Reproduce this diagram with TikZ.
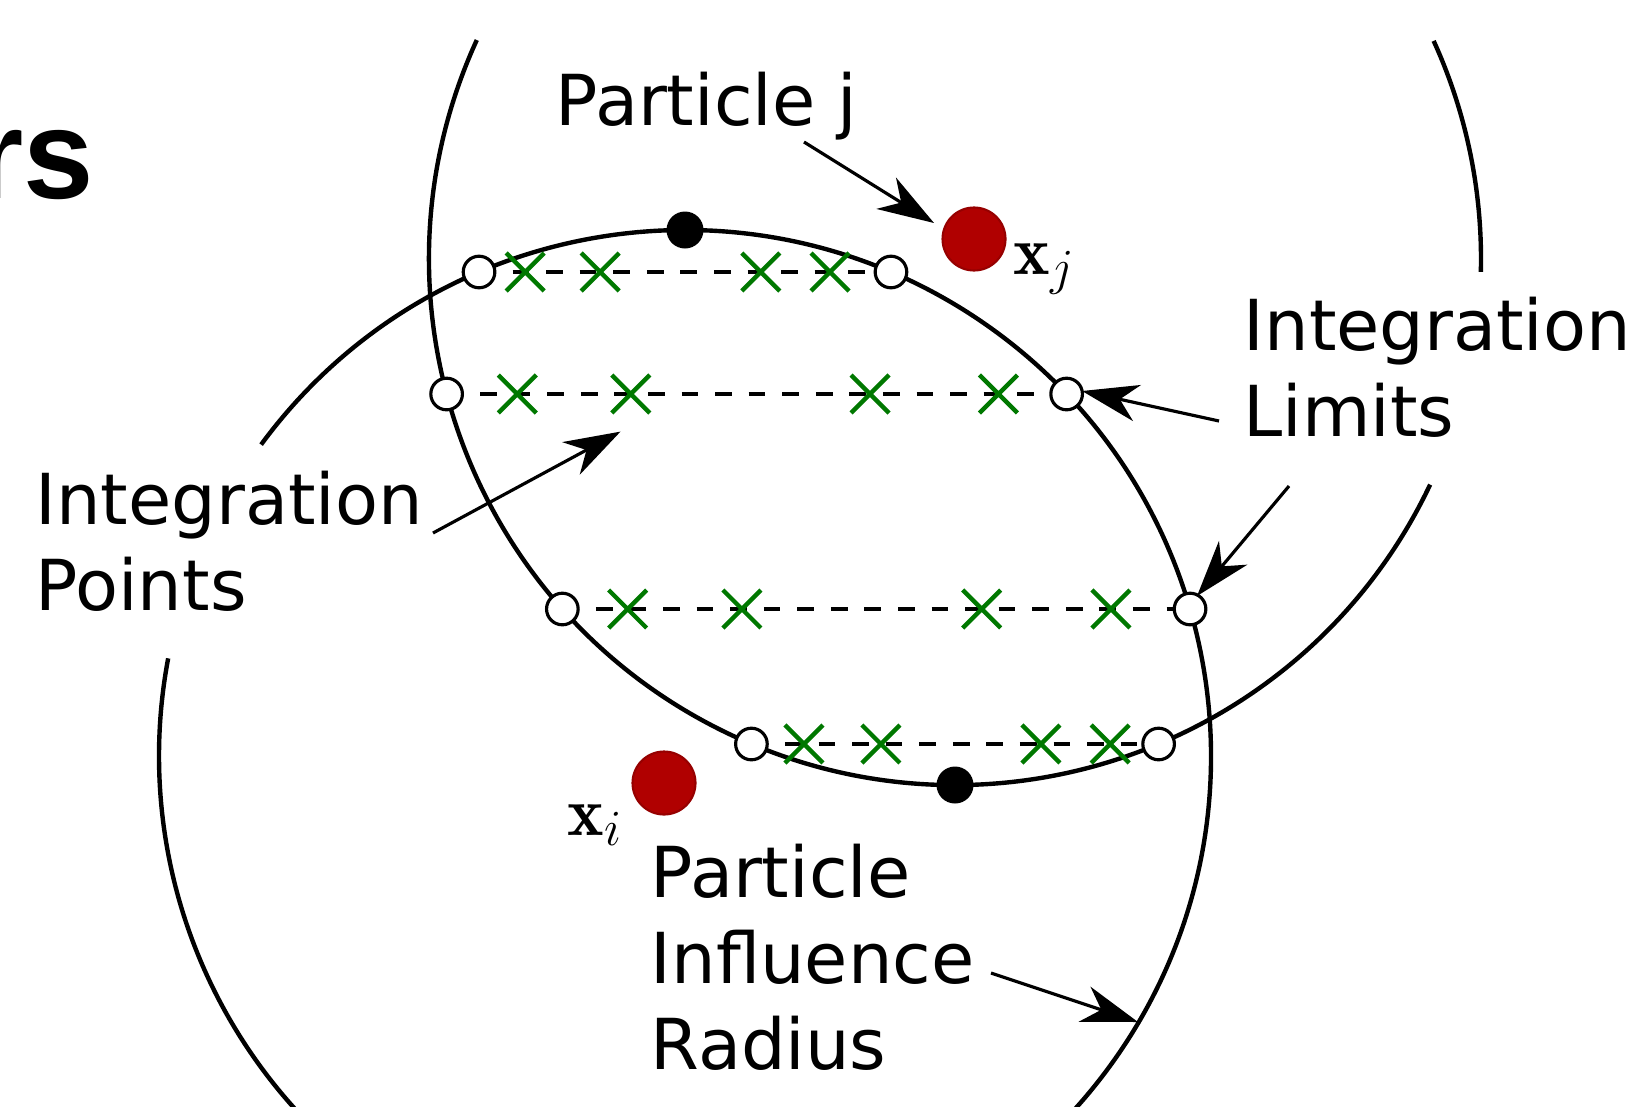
\documentclass[tikz,border=0pt]{standalone}
\usepackage{fontspec}
\newfontfamily\labelfont{DejaVu Sans}
\newfontfamily\titlefont{Liberation Sans}
\usetikzlibrary{arrows.meta,calc}

\definecolor{particlered}{RGB}{176,0,0}
\definecolor{particleedge}{RGB}{150,0,0}
\definecolor{pointgreen}{RGB}{0,120,0}

\tikzset{
    labeltext/.style={anchor=north west, inner sep=0pt, align=left,
        font=\labelfont\fontsize{20}{24.5}\selectfont},
    mathtext/.style={anchor=base west, inner sep=0pt,
        font=\fontsize{19.7}{24}\selectfont},
    pointer/.style={line width=0.9pt,
        -{Stealth[length=16pt, width=10.5pt, inset=5pt]}},
    limitline/.style={line width=1.25pt, dash pattern=on 4.75pt off 4.8pt},
    gausscross/.style={pointgreen, line width=1.25pt},
}

\begin{document}
\begin{tikzpicture}[x=1mm, y=-1mm]

    \useasboundingbox (0,0) rectangle (162.7,110.6);

    % パラメータの定義
    \pgfmathsetmacro{\R}{52.6}
    \pgfmathsetmacro{\cix}{68.5}
    \pgfmathsetmacro{\ciy}{75.6}
    \pgfmathsetmacro{\cjx}{95.5}
    \pgfmathsetmacro{\cjy}{25.9}

    % 積分線の高さ
    \pgfmathsetmacro{\ya}{27.2}
    \pgfmathsetmacro{\yb}{39.4}
    \pgfmathsetmacro{\yc}{60.9}
    \pgfmathsetmacro{\yd}{74.4}

    % 点の定義
    \coordinate (Ci) at (\cix,\ciy);
    \coordinate (Cj) at (\cjx,\cjy);
    \coordinate (Ti) at ({\cix},{\ciy-\R});
    \coordinate (Bj) at ({\cjx},{\cjy+\R});
    \coordinate (Xi) at (66.4,78.3);
    \coordinate (Xj) at (97.4,23.9);

    % 積分区間の端点
    \coordinate (A1) at ({\cix-sqrt(\R^2-(\ya-\ciy)^2)},\ya);
    \coordinate (B1) at ({\cix+sqrt(\R^2-(\ya-\ciy)^2)},\ya);
    \coordinate (A2) at ({\cjx-sqrt(\R^2-(\yb-\cjy)^2)},\yb);
    \coordinate (B2) at ({\cix+sqrt(\R^2-(\yb-\ciy)^2)},\yb);
    \coordinate (A3) at ({\cjx-sqrt(\R^2-(\yc-\cjy)^2)},\yc);
    \coordinate (B3) at ({\cix+sqrt(\R^2-(\yc-\ciy)^2)},\yc);
    \coordinate (A4) at ({\cjx-sqrt(\R^2-(\yd-\cjy)^2)},\yd);
    \coordinate (B4) at ({\cjx+sqrt(\R^2-(\yd-\cjy)^2)},\yd);

    % 影響半径の円
    \draw [line width=1.25pt] (Ci) ++(216.3:\R) arc [start angle=216.3, end angle=550.7, radius=\R];
    \draw [line width=1.25pt] (Cj) ++(25.4:\R) arc [start angle=25.4, end angle=204.6, radius=\R];
    \draw [line width=1.25pt] (Cj) ++(-24.5:\R) arc [start angle=-24.5, end angle=1.4, radius=\R];

    % 積分区間と積分点
    \foreach \a/\b/\fr in {A1/B1/{0.112,0.294,0.684,0.852}, A2/B2/{0.114,0.297,0.683,0.89},
                           A3/B3/{0.104,0.286,0.668,0.874}, A4/B4/{0.129,0.318,0.711,0.881}} {
        \draw [limitline] (\a) -- (\b);
        \foreach \t in \fr
            \draw [gausscross] ($(\a)!\t!(\b)$) +(-1.9,-1.9) -- +(1.9,1.9) +(-1.9,1.9) -- +(1.9,-1.9);
    }
    \foreach \p in {A1, B1, A2, B2, A3, B3, A4, B4}
        \filldraw [fill=white, line width=0.9pt] (\p) circle (1.58);

    % 点の描画
    \fill (Ti) circle (1.85);
    \fill (Bj) circle (1.85);
    \filldraw [fill=particlered, draw=particleedge, line width=0.6pt] (Xi) circle (3.15);
    \filldraw [fill=particlered, draw=particleedge, line width=0.6pt] (Xj) circle (3.15);

    % ラベル
    \node [mathtext] (xjlab) at (101.3,27.4) {$\mathbf{x}_j$};
    \node [mathtext] (xilab) at (56.7,83.5) {$\mathbf{x}_i$};
    \node [labeltext] (pj) at (55.5,7.1) {Particle j};
    \node [labeltext] (ip) at (3.47,47.05) {Integration\\Points};
    \node [labeltext] (il) at (124.3,29.62) {Integration\\Limits};
    \node [labeltext] (pir) at (65.0,84.35) {Particle\\Influence\\Radius};
    \node [anchor=base west, inner sep=0pt,
        font=\titlefont\bfseries\fontsize{36}{40}\selectfont] (title) at (-2.6,19.8) {rs};

    % 矢印
    \coordinate (pjFrom) at (80.4,14.2);
    \coordinate (pjTo) at (93.4,22.3);
    \coordinate (ilFromA) at (121.9,42.1);
    \coordinate (ilToA) at (108.2,39.1);
    \coordinate (ilFromB) at (128.9,48.6);
    \coordinate (ilToB) at (119.7,59.6);
    \coordinate (ipFrom) at (43.3,53.3);
    \coordinate (ipTo) at (62.05,43.16);
    \coordinate (pirFrom) at (99.1,97.3);
    \coordinate (pirTo) at (113.8,102.2);

    \draw [pointer] (pjFrom) -- (pjTo);
    \draw [pointer] (ilFromA) -- (ilToA);
    \draw [pointer] (ilFromB) -- (ilToB);
    \draw [pointer] (ipFrom) -- (ipTo);
    \draw [pointer] (pirFrom) -- (pirTo);

\end{tikzpicture}
\end{document}
